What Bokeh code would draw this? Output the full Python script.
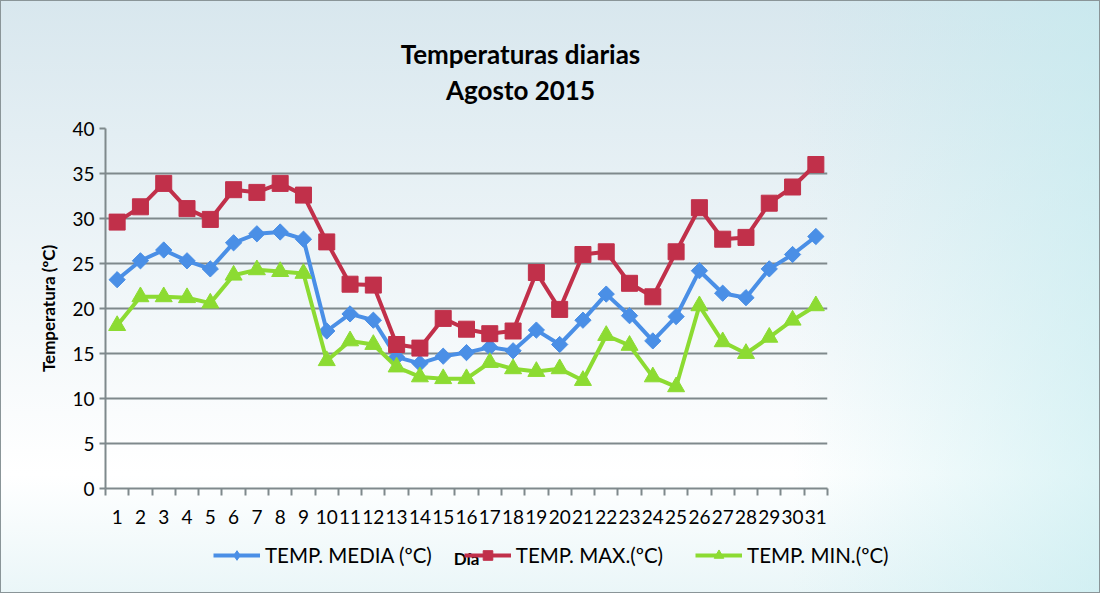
from bokeh.plotting import figure
from bokeh.layouts import column
from bokeh.models import FixedTicker, Legend, LegendItem, Label, Range1d
from bokeh.embed import file_html
from bokeh.resources import INLINE

# ---- data ----
days = list(range(1, 32))
temp_media = [23.2, 25.3, 26.5, 25.3, 24.4, 27.3, 28.3, 28.5, 27.7, 17.5,
              19.4, 18.7, 14.6, 13.9, 14.7, 15.1, 15.7, 15.3, 17.6, 16.0,
              18.7, 21.6, 19.2, 16.4, 19.1, 24.2, 21.7, 21.2, 24.4, 26.0, 28.0]
temp_max = [29.6, 31.3, 33.9, 31.1, 29.9, 33.2, 32.9, 33.9, 32.6, 27.4,
            22.7, 22.6, 16.0, 15.6, 18.9, 17.7, 17.2, 17.5, 24.0, 19.9,
            26.0, 26.3, 22.8, 21.3, 26.3, 31.2, 27.7, 27.9, 31.7, 33.5, 36.0]
temp_min = [18.1, 21.3, 21.3, 21.2, 20.6, 23.7, 24.3, 24.1, 23.9, 14.2,
            16.4, 16.0, 13.5, 12.4, 12.2, 12.2, 14.0, 13.3, 13.0, 13.3,
            12.0, 17.0, 15.9, 12.4, 11.3, 20.3, 16.3, 15.0, 16.8, 18.7, 20.3]
y_ticks = [0, 5, 10, 15, 20, 25, 30, 35, 40]
series_names = ["TEMP. MEDIA (ºC)", "TEMP. MAX.(ºC)", "TEMP. MIN.(ºC)"]
title_lines = ["Temperaturas diarias", "Agosto 2015"]
x_title = "Día"
y_title = "Temperatura (ºC)"

BLUE = "#4a8fe6"
RED = "#c1304a"
GREEN = "#8cdb32"
GRID = "#7f898c"
FONT = "Lato"
W = 1100
NAN = float("nan")


def bare(height, y0, y1):
    f = figure(width=W, height=height, x_range=Range1d(0, W), y_range=Range1d(y0, y1),
               output_backend="svg", toolbar_location=None,
               x_axis_location=None, y_axis_location=None,
               min_border=0, frame_align=False)
    f.grid.visible = False
    f.outline_line_color = None
    f.border_fill_alpha = 0
    f.background_fill_alpha = 0
    return f


# ---- title strip (page pixel coordinates, y downward) ----
top = bare(118, 118, 0)
top.add_layout(Label(x=520, y=53, text=title_lines[0], text_align="center",
                     text_baseline="alphabetic", text_font=FONT, text_font_size="26px",
                     text_font_style="bold", text_color="#000000"))
top.add_layout(Label(x=520, y=89, text=title_lines[1], text_align="center",
                     text_baseline="alphabetic", text_font=FONT, text_font_size="26px",
                     text_font_style="bold", text_color="#000000"))

# ---- main chart ----
p = figure(width=W, height=422,
           x_range=Range1d(0.5, 31.5), y_range=Range1d(0, 40),
           output_backend="svg", toolbar_location=None,
           min_border_left=105, min_border_right=273,
           min_border_top=10, min_border_bottom=52, frame_align=False)
p.border_fill_alpha = 0
p.background_fill_alpha = 0
p.outline_line_color = None

p.xgrid.visible = False
p.ygrid.grid_line_color = GRID
p.ygrid.grid_line_width = 2

p.xaxis.ticker = FixedTicker(ticks=days, minor_ticks=[d + 0.5 for d in range(0, 32)])
p.xaxis.major_tick_out = 0
p.xaxis.major_tick_in = 0
p.xaxis.minor_tick_out = 7
p.xaxis.minor_tick_in = 0
p.xaxis.minor_tick_line_color = GRID
p.xaxis.minor_tick_line_width = 2

p.yaxis.ticker = FixedTicker(ticks=y_ticks)
p.yaxis.major_tick_out = 6
p.yaxis.major_tick_in = 0
p.yaxis.minor_tick_line_color = None
p.yaxis.axis_label = y_title
p.yaxis.axis_label_standoff = 10

for ax in (p.xaxis, p.yaxis):
    ax.axis_line_color = GRID
    ax.axis_line_width = 2
    ax.major_tick_line_color = GRID
    ax.major_tick_line_width = 2
    ax.major_label_text_font = FONT
    ax.major_label_text_font_size = "19px"
    ax.major_label_text_color = "#000000"
    ax.axis_label_text_font = FONT
    ax.axis_label_text_font_size = "17px"
    ax.axis_label_text_font_style = "bold"
    ax.axis_label_text_color = "#000000"
p.xaxis.major_label_standoff = 14
p.yaxis.major_label_standoff = 5

p.line(days, temp_media, line_width=4, color=BLUE)
p.scatter(days, temp_media, marker="square", angle=0.785398, size=11.5, color=BLUE)
p.line(days, temp_max, line_width=4, color=RED)
p.scatter(days, temp_max, marker="square", size=16, color=RED)
p.line(days, temp_min, line_width=4, color=GREEN)
p.scatter(days, temp_min, marker="triangle", size=17, color=GREEN)

# ---- bottom strip: axis title and legend (page pixel coordinates, y downward) ----
bot = bare(53, 593, 540)
bot.add_layout(Label(x=466, y=558, text=x_title, text_align="center",
                     text_baseline="alphabetic", text_font=FONT, text_font_size="17px",
                     text_font_style="bold", text_color="#000000"))
styles = [(BLUE, "diamond", 16), (RED, "square", 15), (GREEN, "triangle", 16)]
items = []
for name, (c, mk, sz) in zip(series_names, styles):
    lr = bot.line([NAN], [NAN], line_width=4, color=c)
    sr = bot.scatter([NAN], [NAN], marker=mk, size=sz, color=c)
    items.append(LegendItem(label=name, renderers=[lr, sr]))
legend = Legend(items=items, orientation="horizontal", location=(213, 26),
                background_fill_alpha=0, border_line_color=None,
                padding=0, margin=0, spacing=32,
                glyph_width=47, glyph_height=24, label_height=24, label_standoff=5,
                label_text_font=FONT, label_text_font_size="20.5px",
                label_text_color="#000000")
bot.add_layout(legend, "center")

layout = column(top, p, bot, spacing=0)
layout.styles = {
    "background": "linear-gradient(90deg, rgba(255,255,255,0) 72%, rgba(190,234,238,0.55) 100%), "
                  "linear-gradient(180deg, #d8e7ee 0%, #eef5f8 45%, #ffffff 80%, #eaf6f8 100%)",
    "box-shadow": "inset 0 0 0 1px #8a9598",
}

open("out.html", "w").write(file_html(layout, INLINE))
